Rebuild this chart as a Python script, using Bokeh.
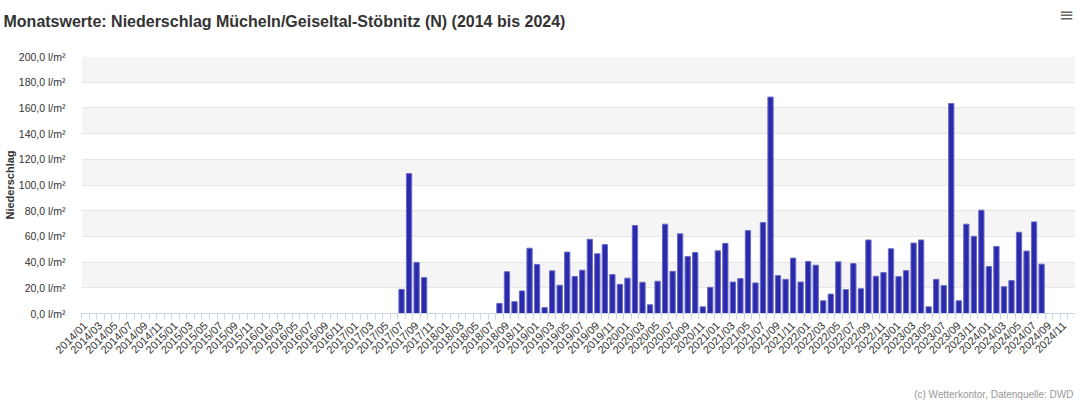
import math
from bokeh.plotting import figure
from bokeh.models import FixedTicker, Range1d, Label, ColumnDataSource
from bokeh.embed import file_html
from bokeh.resources import INLINE

# ---- data (l/m², None = no value) ----
years = list(range(2014, 2025))
rain_2014 = [None] * 12
rain_2015 = [None] * 12
rain_2016 = [None] * 12
rain_2017 = [None, None, None, None, None, None, 18.8, 108.9, 39.8, 28.0, None, None]
rain_2018 = [None, None, None, None, None, None, None, 7.9, 32.5, 9.2, 17.6, 50.8]
rain_2019 = [38.1, 4.6, 33.2, 22.0, 47.8, 28.8, 33.7, 57.8, 46.5, 53.6, 30.3, 22.7]
rain_2020 = [27.5, 68.5, 24.3, 6.8, 25.1, 69.5, 32.8, 62.0, 44.4, 47.5, 5.2, 20.4]
rain_2021 = [48.8, 54.6, 24.5, 27.2, 64.5, 23.8, 70.8, 168.4, 29.5, 26.6, 43.1, 24.5]
rain_2022 = [40.5, 37.6, 9.9, 15.1, 40.2, 18.6, 38.9, 19.3, 57.2, 29.0, 31.9, 50.4]
rain_2023 = [28.7, 33.4, 54.8, 57.2, 5.2, 26.6, 21.7, 163.4, 9.9, 69.5, 60.1, 80.4]
rain_2024 = [36.6, 52.2, 20.9, 25.6, 63.2, 48.6, 71.3, 38.4, None, None, None, None]

values = (rain_2014 + rain_2015 + rain_2016 + rain_2017 + rain_2018 + rain_2019
          + rain_2020 + rain_2021 + rain_2022 + rain_2023 + rain_2024)
months = [f"{y}/{m:02d}" for y in years for m in range(1, 13)]
y_ticks = [0, 20, 40, 60, 80, 100, 120, 140, 160, 180, 200]
y_tick_labels = [f"{t},0 l/m²" for t in y_ticks]

title_text = "Monatswerte: Niederschlag Mücheln/Geiseltal-Stöbnitz (N) (2014 bis 2024)"
credits_text = "(c) Wetterkontor, Datenquelle: DWD"

FONT = "Liberation Sans"

idx = list(range(len(months)))
src = ColumnDataSource(dict(
    x=idx,
    top=[float("nan") if v is None else v for v in values],
))

p = figure(width=1075, height=401, output_backend="svg", toolbar_location=None,
           x_range=Range1d(-0.5, len(months) - 0.5), y_range=Range1d(0, 200),
           min_border_left=78, min_border_right=0, min_border_top=56,
           min_border_bottom=88)
p.outline_line_color = None
p.background_fill_color = "white"
p.border_fill_color = "white"

p.vbar(x="x", top="top", width=0.7, source=src,
       fill_color="#2a2aad", line_color="#6c6cc6", line_width=1)

# title
p.title.text = title_text
p.title.text_font = FONT
p.title.text_font_size = "16px"
p.title.text_font_style = "bold"
p.title.text_color = "#333333"
p.title.offset = -78
p.title.standoff = 8
p.title.vertical_align = "top"
p.title.padding = 0

# x axis
xa = p.xaxis[0]
xa.ticker = FixedTicker(ticks=idx[::2], minor_ticks=[i - 0.5 for i in range(len(months) + 1)])
xa.major_label_overrides = {i: months[i] for i in idx[::2]}
xa.major_label_orientation = math.pi / 4
xa.major_label_text_font = FONT
xa.major_label_text_font_size = "11px"
xa.major_label_text_color = "#333333"
xa.major_tick_in = 0
xa.major_tick_out = 0
xa.minor_tick_in = 0
xa.minor_tick_out = 6
xa.minor_tick_line_color = "#ccd6eb"
xa.axis_line_color = "#ccd6eb"
xa.major_label_standoff = 4
p.xgrid.grid_line_color = None

# y axis
ya = p.yaxis[0]
ya.ticker = FixedTicker(ticks=y_ticks)
ya.major_label_overrides = {t: s for t, s in zip(y_ticks, y_tick_labels)}
ya.major_label_text_font = FONT
ya.major_label_text_font_size = "10.5px"
ya.major_label_text_color = "#333333"
ya.axis_line_color = None
ya.major_tick_line_color = None
ya.minor_tick_line_color = None
ya.major_label_standoff = 10
ya.axis_label = "Niederschlag"
ya.axis_label_text_font = FONT
ya.axis_label_text_font_size = "11px"
ya.axis_label_text_font_style = "bold"
ya.axis_label_text_color = "#333333"
ya.axis_label_standoff = 0
p.ygrid.grid_line_color = "#e6e6e6"
p.ygrid.band_fill_color = "#f5f5f5"
p.ygrid.band_fill_alpha = 1.0

# credits
p.add_layout(Label(x=992, y=-20, x_units="screen", y_units="screen",
                   text=credits_text, text_align="right", text_baseline="middle",
                   text_font=FONT, text_font_size="10px", text_color="#999999"),
             "below")
# menu icon
p.add_layout(Label(x=985, y=42, x_units="screen", y_units="screen",
                   text="≡", text_align="center", text_baseline="middle",
                   text_font="DejaVu Sans", text_font_size="18px", text_color="#666666"),
             "above")

open("out.html", "w").write(file_html(p, INLINE))
